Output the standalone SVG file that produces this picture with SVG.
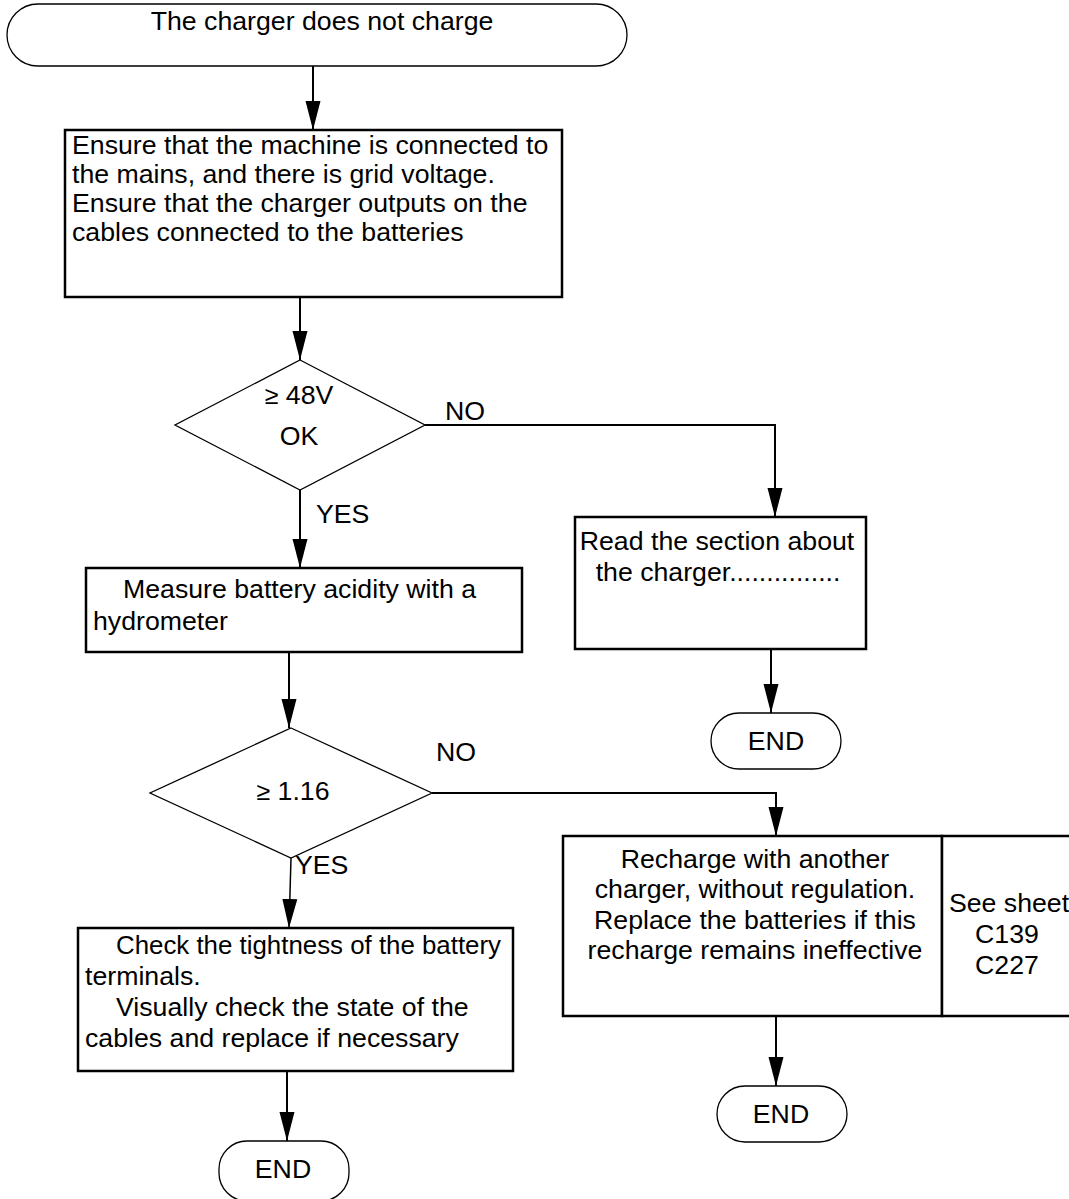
<svg xmlns="http://www.w3.org/2000/svg" width="1069" height="1199" viewBox="0 0 1069 1199">
<style>
text{font-family:"Liberation Sans",Arial,sans-serif;font-size:26.7px;fill:#000}
.c{text-anchor:middle}
.box{fill:#fff;stroke:#000;stroke-width:2.5}
.thin{fill:#fff;stroke:#000;stroke-width:1.3}
.con{fill:none;stroke:#000;stroke-width:2}
.sym{font-size:25px}
</style>
<defs>
<marker id="ah" markerUnits="userSpaceOnUse" markerWidth="29" markerHeight="16" viewBox="0 0 29 16" refX="29" refY="8" orient="auto">
<path d="M0,0.5 L29,8 L0,15.5 Z" fill="#000"/>
</marker>
</defs>
<rect width="1069" height="1199" fill="#fff"/>
<g id="connectors">
<path class="con" d="M313,66 V130" marker-end="url(#ah)"/>
<path class="con" d="M300,297 V360" marker-end="url(#ah)"/>
<path class="con" d="M425,425 H775 V517" marker-end="url(#ah)"/>
<path class="con" d="M300,490 V568" marker-end="url(#ah)"/>
<path class="con" d="M771,649 V713" marker-end="url(#ah)"/>
<path class="con" d="M289,652 V728" marker-end="url(#ah)"/>
<path class="con" d="M432,793 H776 V836" marker-end="url(#ah)"/>
<path class="con" style="stroke-width:1.5" d="M291,858 L289,928" marker-end="url(#ah)"/>
<path class="con" d="M776,1016 V1086" marker-end="url(#ah)"/>
<path class="con" d="M287,1071 V1141" marker-end="url(#ah)"/>
<text x="445" y="420">NO</text>
<text x="316" y="523">YES</text>
<text x="436" y="761">NO</text>
<text x="295" y="874">YES</text>
</g>
<g id="start">
<rect class="thin" x="7" y="4" width="620" height="62" rx="31" ry="31"/>
<text class="c" x="322" y="30">The charger does not charge</text>
</g>
<g id="ensure">
<rect class="box" x="65" y="130" width="497" height="167"/>
<text x="72" y="154">Ensure that the machine is connected to</text>
<text x="72" y="183">the mains, and there is grid voltage.</text>
<text x="72" y="212">Ensure that the charger outputs on the</text>
<text x="72" y="241">cables connected to the batteries</text>
</g>
<g id="dec48">
<polygon class="thin" points="300,360 425,425 300,490 175,425"/>
<text class="c" x="299" y="404"><tspan class="sym">≥</tspan> 48V</text>
<text class="c" x="299" y="445">OK</text>
</g>
<g id="readsection">
<rect class="box" x="575" y="517" width="291" height="132"/>
<text class="c" x="717" y="550">Read the section about</text>
<text class="c" x="718" y="581">the charger...............</text>
</g>
<g id="end1">
<rect class="thin" x="711" y="713" width="130" height="56" rx="28" ry="28"/>
<text class="c" x="776" y="750">END</text>
</g>
<g id="measure">
<rect class="box" x="86" y="568" width="436" height="84"/>
<text x="123" y="598">Measure battery acidity with a</text>
<text x="93" y="630">hydrometer</text>
</g>
<g id="dec116">
<polygon class="thin" points="291,728 432,793 291,858 150,793"/>
<text class="c" x="293" y="800"><tspan class="sym">≥</tspan> 1.16</text>
</g>
<g id="recharge">
<rect class="box" x="563" y="836" width="379" height="180"/>
<text class="c" x="755" y="868">Recharge with another</text>
<text class="c" x="755" y="898">charger, without regulation.</text>
<text class="c" x="755" y="929">Replace the batteries if this</text>
<text class="c" x="755" y="959">recharge remains ineffective</text>
</g>
<g id="seesheet">
<rect class="box" x="942" y="836" width="140" height="180"/>
<text class="c" x="1009" y="912">See sheet</text>
<text class="c" x="1007" y="943">C139</text>
<text class="c" x="1007" y="974">C227</text>
</g>
<g id="end2">
<rect class="thin" x="717" y="1086" width="130" height="56" rx="28" ry="28"/>
<text class="c" x="781" y="1123">END</text>
</g>
<g id="check">
<rect class="box" x="78" y="928" width="435" height="143"/>
<text x="116" y="954" textLength="385" lengthAdjust="spacingAndGlyphs">Check the tightness of the battery</text>
<text x="85" y="985">terminals.</text>
<text x="116" y="1016">Visually check the state of the</text>
<text x="85" y="1047">cables and replace if necessary</text>
</g>
<g id="end3">
<rect class="thin" x="219" y="1141" width="130" height="60" rx="28" ry="28"/>
<text class="c" x="283" y="1178">END</text>
</g>
</svg>
